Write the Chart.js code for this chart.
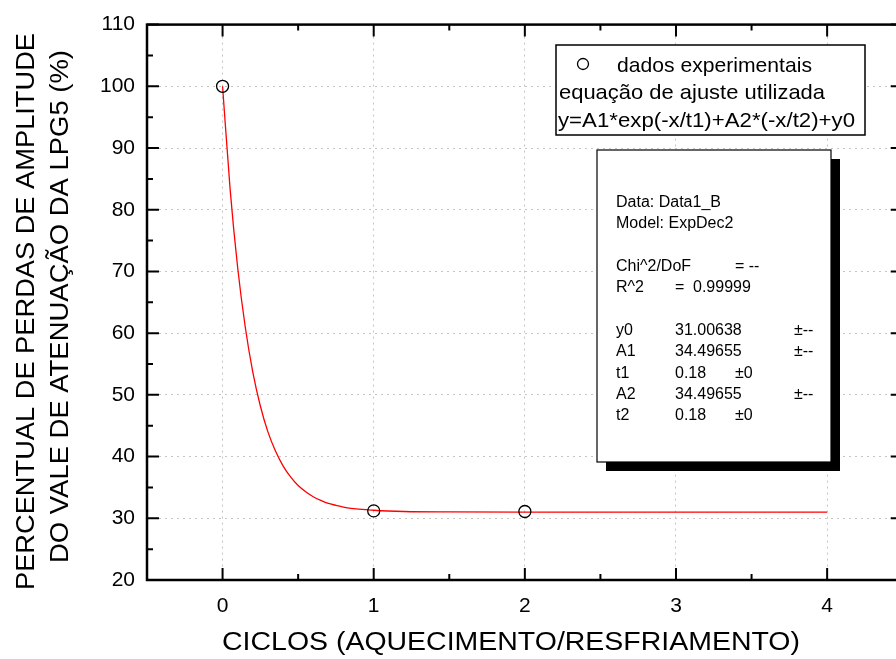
<!DOCTYPE html>
<html>
<head>
<meta charset="utf-8">
<script src="https://cdn.jsdelivr.net/npm/chart.js@4.4.1/dist/chart.umd.min.js"></script>
<style>
  html, body { margin: 0; padding: 0; background: #fff; overflow: hidden; }
  canvas { display: block; }
</style>
</head>
<body>
<canvas id="myChart" width="910" height="659" style="width:910px;height:659px"></canvas>
<script>
// Messpunkte (Ciclos / Perdas %)
const ciclos = [0, 1, 2];
const perdas = [100, 31.2, 31.1];

// Ajuste ExpDec2
const ajusteX = [0, 0.05, 0.1, 0.15, 0.2, 0.25, 0.3, 0.35, 0.4, 0.45, 0.5, 0.55, 0.6, 0.65, 0.7, 0.75, 0.8, 0.85, 0.9, 0.95, 1.0, 1.2, 1.5, 2.0, 2.5, 3.0, 3.5, 4.0];
const ajusteY = [100, 83.3, 70.6, 61.0, 53.7, 48.2, 44.0, 40.9, 38.5, 36.7, 35.3, 34.3, 33.5, 32.9, 32.4, 32.1, 31.8, 31.6, 31.5, 31.4, 31.3, 31.1, 31.03, 31.01, 31.01, 31.0, 31.0, 31.0];

// Achsen
const xTicks = [0, 1, 2, 3, 4];
const xMinor = [0.5, 1.5, 2.5, 3.5];
const yTicks = [20, 30, 40, 50, 60, 70, 80, 90, 100, 110];
const yMinor = [25, 35, 45, 55, 65, 75, 85, 95, 105];

const tituloX = "CICLOS (AQUECIMENTO/RESFRIAMENTO)";
const tituloY1 = "PERCENTUAL DE PERDAS DE AMPLITUDE";
const tituloY2 = "DO VALE DE ATENUAÇÃO DA LPG5 (%)";

const legenda = ["dados experimentais", "equação de ajuste utilizada", "y=A1*exp(-x/t1)+A2*(-x/t2)+y0"];

const FONT = '"Liberation Sans", Arial, sans-serif';

// Text horizontal auf eine Breite strecken
function stretchText(ctx, txt, x, y, w, size, rot, align) {
  ctx.save();
  ctx.font = size + 'px ' + FONT;
  ctx.translate(x, y);
  if (rot) ctx.rotate(-Math.PI / 2);
  const m = ctx.measureText(txt).width;
  ctx.scale(w / m, 1);
  ctx.textAlign = align || 'center';
  ctx.textBaseline = 'alphabetic';
  ctx.fillStyle = '#000';
  ctx.fillText(txt, 0, 0);
  ctx.restore();
}

const framePlugin = {
  id: 'frame',
  afterDraw(chart) {
    const ctx = chart.ctx;
    const a = chart.chartArea;
    const xs = chart.scales.x, ys = chart.scales.y;
    ctx.save();
    ctx.strokeStyle = '#000';
    ctx.lineWidth = 2;

    // Ticks (innen)
    ctx.beginPath();
    xTicks.forEach(v => {
      const p = xs.getPixelForValue(v);
      ctx.moveTo(p, a.bottom); ctx.lineTo(p, a.bottom - 12);
      ctx.moveTo(p, a.top); ctx.lineTo(p, a.top + 12);
    });
    xMinor.forEach(v => {
      const p = xs.getPixelForValue(v);
      ctx.moveTo(p, a.bottom); ctx.lineTo(p, a.bottom - 6);
      ctx.moveTo(p, a.top); ctx.lineTo(p, a.top + 6);
    });
    yTicks.forEach(v => {
      const p = ys.getPixelForValue(v);
      ctx.moveTo(a.left, p); ctx.lineTo(a.left + 12, p);
      ctx.moveTo(a.right, p); ctx.lineTo(a.right - 12, p);
    });
    yMinor.forEach(v => {
      const p = ys.getPixelForValue(v);
      ctx.moveTo(a.left, p); ctx.lineTo(a.left + 6, p);
      ctx.moveTo(a.right, p); ctx.lineTo(a.right - 6, p);
    });
    ctx.stroke();

    // Rahmen
    ctx.lineWidth = 2.5;
    ctx.strokeRect(a.left, a.top, a.right - a.left, a.bottom - a.top);
    ctx.restore();

    // Achsentitel
    stretchText(ctx, tituloX, 511, 650, 578, 25, false);
    stretchText(ctx, tituloY1, 34, 311.5, 557, 25, true);
    stretchText(ctx, tituloY2, 68, 306.5, 513, 25, true);

    // Legende
    ctx.save();
    ctx.fillStyle = '#fff';
    ctx.fillRect(556, 45, 309, 90);
    ctx.strokeStyle = '#000';
    ctx.lineWidth = 1.5;
    ctx.strokeRect(556, 45, 309, 90);
    ctx.beginPath();
    ctx.lineWidth = 1.3;
    ctx.arc(583, 64, 5.5, 0, Math.PI * 2);
    ctx.stroke();
    ctx.restore();
    stretchText(ctx, legenda[0], 617, 72, 195, 21, false, 'left');
    stretchText(ctx, legenda[1], 559, 99, 266, 21, false, 'left');
    stretchText(ctx, legenda[2], 558, 127, 297, 21, false, 'left');

    // Statistik-Box mit Schatten
    ctx.save();
    ctx.fillStyle = '#000';
    ctx.fillRect(606, 159, 234, 312);
    ctx.fillStyle = '#fff';
    ctx.fillRect(597, 150, 234, 312);
    ctx.strokeStyle = '#000';
    ctx.lineWidth = 1.2;
    ctx.strokeRect(597, 150, 234, 312);
    ctx.fillStyle = '#000';
    ctx.font = '16px ' + FONT;
    const c1 = 616, c2 = 675, c3 = 735, c4 = 794;
    ctx.fillText('Data: Data1_B', c1, 207);
    ctx.fillText('Model: ExpDec2', c1, 228);
    ctx.fillText('Chi^2/DoF', c1, 271);
    ctx.fillText('= --', c3, 271);
    ctx.fillText('R^2', c1, 292);
    ctx.fillText('=', c2, 292);
    ctx.fillText('0.99999', 693, 292);
    const linhas = [['y0', '31.00638', '±--', c4], ['A1', '34.49655', '±--', c4], ['t1', '0.18', '±0', c3], ['A2', '34.49655', '±--', c4], ['t2', '0.18', '±0', c3]];
    linhas.forEach((l, i) => {
      const y = 335 + i * 21.3;
      ctx.fillText(l[0], c1, y);
      ctx.fillText(l[1], c2, y);
      ctx.fillText(l[2], l[3], y);
    });
    ctx.restore();
  }
};

const ctx = document.getElementById('myChart').getContext('2d');

let chart = new Chart(ctx, {
  type: 'scatter',
  data: {
    datasets: [
      {
        label: 'dados experimentais',
        data: ciclos.map((x, i) => ({ x: x, y: perdas[i] })),
        pointStyle: 'circle',
        pointRadius: 6,
        pointBorderWidth: 1.3,
        borderColor: '#000',
        backgroundColor: 'rgba(0,0,0,0)',
        showLine: false
      },
      {
        label: 'ajuste',
        data: ajusteX.map((x, i) => ({ x: x, y: ajusteY[i] })),
        showLine: true,
        borderColor: '#ff0000',
        borderWidth: 1.3,
        pointRadius: 0,
        cubicInterpolationMode: 'monotone',
        fill: false
      }
    ]
  },
  options: {
    responsive: false,
    animation: false,
    layout: { padding: { left: 0, right: 6, top: 22, bottom: 0 } },
    plugins: { legend: { display: false }, tooltip: { enabled: false } },
    scales: {
      x: {
        type: 'linear',
        min: -0.5,
        max: 4.5,
        afterBuildTicks: s => { s.ticks = xTicks.map(v => ({ value: v })); },
        afterFit: s => { s.height = 79; },
        ticks: { color: '#000', font: { family: FONT, size: 21 }, padding: 14, maxRotation: 0 },
        grid: { color: '#c4c4c4', lineWidth: 1, drawTicks: false },
        border: { display: false, dash: [2, 4] }
      },
      y: {
        type: 'linear',
        min: 20,
        max: 110,
        afterBuildTicks: s => { s.ticks = yTicks.map(v => ({ value: v })); },
        afterFit: s => { s.width = 147; },
        ticks: { color: '#000', font: { family: FONT, size: 21 }, padding: 12 },
        grid: { color: '#c4c4c4', lineWidth: 1, drawTicks: false },
        border: { display: false, dash: [2, 4] }
      }
    }
  },
  plugins: [framePlugin]
});
</script>
</body>
</html>
